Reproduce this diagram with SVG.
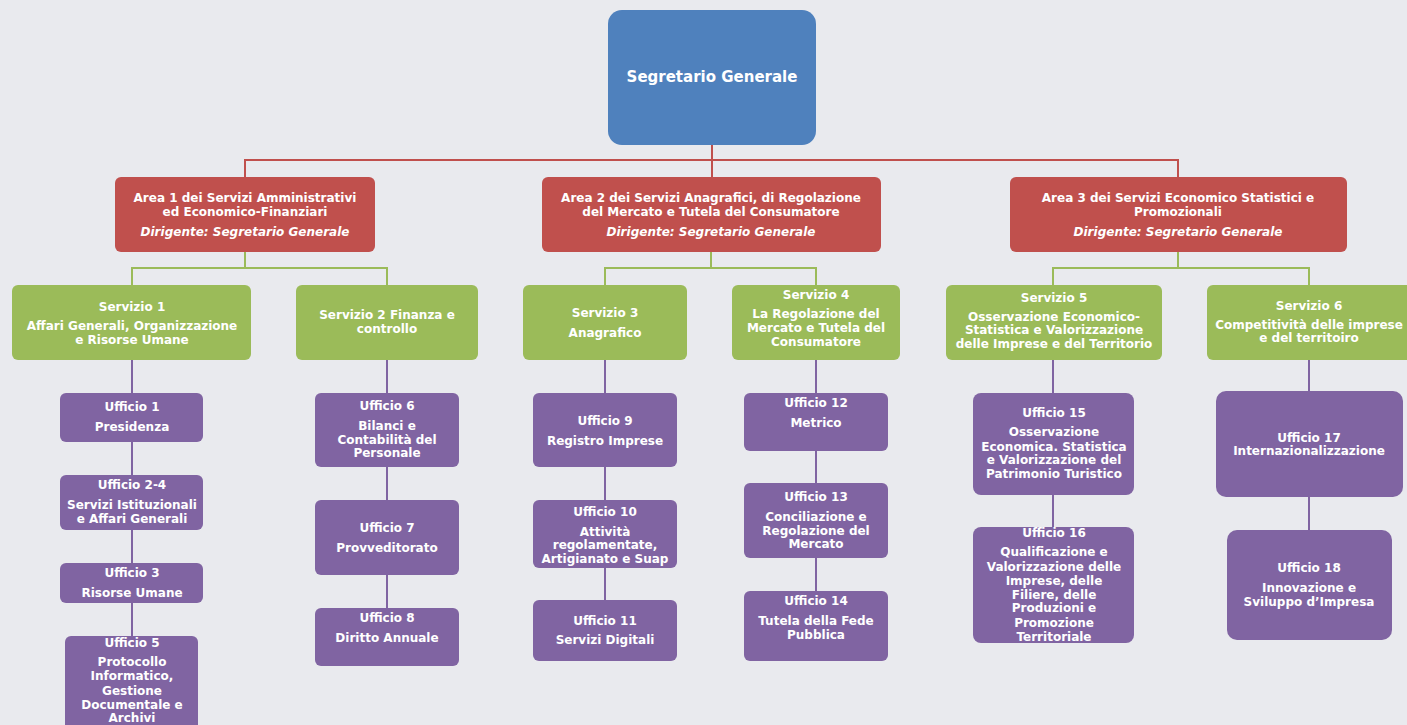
<svg xmlns="http://www.w3.org/2000/svg" width="1407" height="725" viewBox="0 0 1407 725">
<style>
.bg{fill:#e9eaee}
.sg{fill:#4f81bd}
.ar{fill:#c0504d}
.sv{fill:#9bbb59}
.uf{fill:#8064a2}
text{font-family:"DejaVu Sans",sans-serif;font-weight:bold;font-size:12px;fill:#fff;text-anchor:middle;dominant-baseline:central}
.big{font-size:15px}
.it{font-style:italic}
.cr{stroke:#c0504d;stroke-width:2;fill:none}
.cg{stroke:#9bbb59;stroke-width:2;fill:none}
.cp{stroke:#8064a2;stroke-width:2;fill:none}
</style>
<rect class="bg" x="0" y="0" width="1407" height="725"/>
<g id="connectors">
<path class="cr" d="M712 145V177M245 177V160H1178V177"/>
<path class="cg" d="M245 252V268M132 285V268H387V285M711 252V268M605 285V268H816V285M1178 252V268M1053 285V268H1309V285"/>
<path class="cp" d="M132 360V636M387 360V608M605 360V600M816 360V591M1053 360V527M1309 360V530"/>
</g>
<g id="segretario"><rect class="sg" x="608" y="10" width="208" height="135" rx="14"/><text class="big" x="712" y="77">Segretario Generale</text></g>
<g id="area1"><rect class="ar" x="115" y="177" width="260" height="75" rx="6"/><text x="245" y="198">Area 1 dei Servizi Amministrativi</text><text x="245" y="212">ed Economico-Finanziari</text><text class="it" x="245" y="232">Dirigente: Segretario Generale</text></g>
<g id="area2"><rect class="ar" x="542" y="177" width="339" height="75" rx="6"/><text x="711" y="198">Area 2 dei Servizi Anagrafici, di Regolazione</text><text x="711" y="212">del Mercato e Tutela del Consumatore</text><text class="it" x="711" y="232">Dirigente: Segretario Generale</text></g>
<g id="area3"><rect class="ar" x="1010" y="177" width="337" height="75" rx="6"/><text x="1178" y="198">Area 3 dei Servizi Economico Statistici e</text><text x="1178" y="212">Promozionali</text><text class="it" x="1178" y="232">Dirigente: Segretario Generale</text></g>
<g id="servizio1"><rect class="sv" x="12" y="285" width="239" height="75" rx="6"/><text x="132" y="307">Servizio 1</text><text x="132" y="326">Affari Generali, Organizzazione</text><text x="132" y="340">e Risorse Umane</text></g>
<g id="servizio2"><rect class="sv" x="296" y="285" width="182" height="75" rx="6"/><text x="387" y="315">Servizio 2 Finanza e</text><text x="387" y="329">controllo</text></g>
<g id="servizio3"><rect class="sv" x="523" y="285" width="164" height="75" rx="6"/><text x="605" y="313">Servizio 3</text><text x="605" y="333">Anagrafico</text></g>
<g id="servizio4"><rect class="sv" x="732" y="285" width="168" height="75" rx="6"/><text x="816" y="295">Servizio 4</text><text x="816" y="314">La Regolazione del</text><text x="816" y="328">Mercato e Tutela del</text><text x="816" y="342">Consumatore</text></g>
<g id="servizio5"><rect class="sv" x="946" y="285" width="216" height="75" rx="6"/><text x="1054" y="298">Servizio 5</text><text x="1054" y="317">Osservazione Economico-</text><text x="1054" y="330">Statistica e Valorizzazione</text><text x="1054" y="344">delle Imprese e del Territorio</text></g>
<g id="servizio6"><rect class="sv" x="1207" y="285" width="210" height="75" rx="6"/><text x="1309" y="306">Servizio 6</text><text x="1309" y="325">Competitività delle imprese</text><text x="1309" y="338">e del territoiro</text></g>
<g id="ufficio1"><rect class="uf" x="60" y="393" width="143" height="49" rx="6"/><text x="132" y="407">Ufficio 1</text><text x="132" y="427">Presidenza</text></g>
<g id="ufficio2-4"><rect class="uf" x="60" y="475" width="143" height="55" rx="6"/><text x="132" y="485">Ufficio 2-4</text><text x="132" y="505">Servizi Istituzionali</text><text x="132" y="519">e Affari Generali</text></g>
<g id="ufficio3"><rect class="uf" x="60" y="563" width="143" height="40" rx="6"/><text x="132" y="573">Ufficio 3</text><text x="132" y="593">Risorse Umane</text></g>
<g id="ufficio5"><rect class="uf" x="65" y="636" width="133" height="100" rx="6"/><text x="132" y="643">Ufficio 5</text><text x="132" y="662">Protocollo</text><text x="132" y="676">Informatico,</text><text x="132" y="691">Gestione</text><text x="132" y="705">Documentale e</text><text x="132" y="718">Archivi</text></g>
<g id="ufficio6"><rect class="uf" x="315" y="393" width="144" height="74" rx="6"/><text x="387" y="406">Ufficio 6</text><text x="387" y="426">Bilanci e</text><text x="387" y="440">Contabilità del</text><text x="387" y="453">Personale</text></g>
<g id="ufficio7"><rect class="uf" x="315" y="500" width="144" height="75" rx="6"/><text x="387" y="528">Ufficio 7</text><text x="387" y="548">Provveditorato</text></g>
<g id="ufficio8"><rect class="uf" x="315" y="608" width="144" height="58" rx="6"/><text x="387" y="618">Ufficio 8</text><text x="387" y="638">Diritto Annuale</text></g>
<g id="ufficio9"><rect class="uf" x="533" y="393" width="144" height="74" rx="6"/><text x="605" y="421">Ufficio 9</text><text x="605" y="441">Registro Imprese</text></g>
<g id="ufficio10"><rect class="uf" x="533" y="500" width="144" height="68" rx="6"/><text x="605" y="512">Ufficio 10</text><text x="605" y="532">Attività</text><text x="605" y="545">regolamentate,</text><text x="605" y="559">Artigianato e Suap</text></g>
<g id="ufficio11"><rect class="uf" x="533" y="600" width="144" height="61" rx="6"/><text x="605" y="621">Ufficio 11</text><text x="605" y="640">Servizi Digitali</text></g>
<g id="ufficio12"><rect class="uf" x="744" y="393" width="144" height="58" rx="6"/><text x="816" y="403">Ufficio 12</text><text x="816" y="423">Metrico</text></g>
<g id="ufficio13"><rect class="uf" x="744" y="483" width="144" height="75" rx="6"/><text x="816" y="497">Ufficio 13</text><text x="816" y="517">Conciliazione e</text><text x="816" y="531">Regolazione del</text><text x="816" y="544">Mercato</text></g>
<g id="ufficio14"><rect class="uf" x="744" y="591" width="144" height="70" rx="6"/><text x="816" y="601">Ufficio 14</text><text x="816" y="621">Tutela della Fede</text><text x="816" y="635">Pubblica</text></g>
<g id="ufficio15"><rect class="uf" x="973" y="393" width="161" height="102" rx="8"/><text x="1054" y="413">Ufficio 15</text><text x="1054" y="432">Osservazione</text><text x="1054" y="447">Economica. Statistica</text><text x="1054" y="460">e Valorizzazione del</text><text x="1054" y="474">Patrimonio Turistico</text></g>
<g id="ufficio16"><rect class="uf" x="973" y="527" width="161" height="116" rx="8"/><text x="1054" y="533">Ufficio 16</text><text x="1054" y="552">Qualificazione e</text><text x="1054" y="567">Valorizzazione delle</text><text x="1054" y="581">Imprese, delle</text><text x="1054" y="595">Filiere, delle</text><text x="1054" y="608">Produzioni e</text><text x="1054" y="623">Promozione</text><text x="1054" y="637">Territoriale</text></g>
<g id="ufficio17"><rect class="uf" x="1216" y="391" width="187" height="106" rx="10"/><text x="1309" y="438">Ufficio 17</text><text x="1309" y="451">Internazionalizzazione</text></g>
<g id="ufficio18"><rect class="uf" x="1227" y="530" width="165" height="110" rx="10"/><text x="1309" y="568">Ufficio 18</text><text x="1309" y="588">Innovazione e</text><text x="1309" y="602">Sviluppo d’Impresa</text></g>
</svg>
